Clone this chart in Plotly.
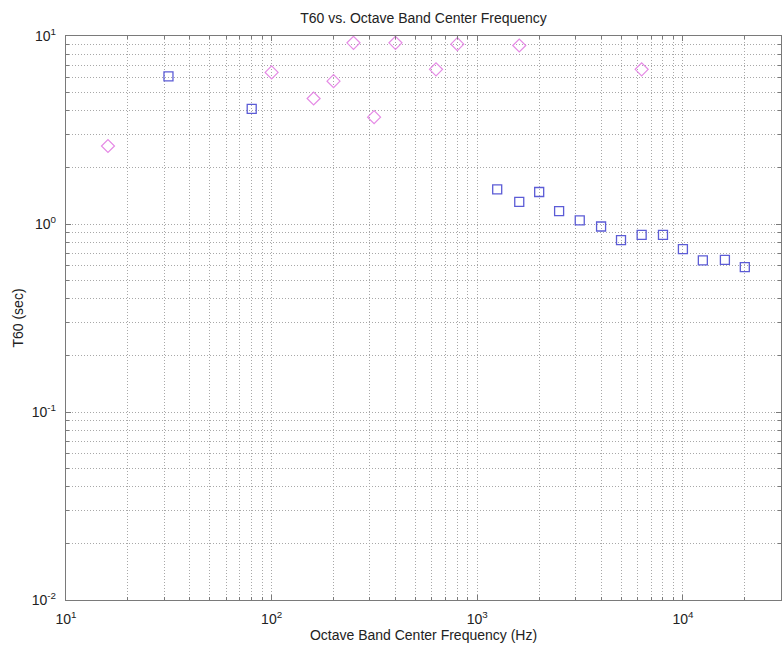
import plotly.graph_objects as go

# Series 1: magenta diamonds
freq_a = [16, 100, 160, 200, 250, 315, 400, 630, 800, 1600, 6300]
t60_a = [2.6, 6.4, 4.65, 5.75, 9.2, 3.7, 9.2, 6.65, 9.05, 8.9, 6.65]

# Series 2: blue squares
freq_b = [31.5, 80, 1250, 1600, 2000, 2500, 3150, 4000, 5000, 6300, 8000,
          10000, 12500, 16000, 20000]
t60_b = [6.1, 4.1, 1.53, 1.31, 1.48, 1.17, 1.045, 0.97, 0.82, 0.875, 0.875,
         0.735, 0.64, 0.645, 0.59]

x_major = [10, 100, 1000, 10000]
x_major_text = ["10<sup>1</sup>", "10<sup>2</sup>", "10<sup>3</sup>", "10<sup>4</sup>"]
y_major = [0.01, 0.1, 1, 10]
y_major_text = ["10<sup>-2</sup>", "10<sup>-1</sup>", "10<sup>0</sup>", "10<sup>1</sup>"]

x_minor = [m * d for d in [10, 100, 1000, 10000] for m in range(2, 10)]
y_minor = [m * d for d in [0.01, 0.1, 1] for m in range(2, 10)]

grid_col = "#a8a8a8"
axis_col = "#7a7a7a"
grid_dash = "1px,2px"
font_fam = "Liberation Sans, Arial, sans-serif"

fig = go.Figure()
fig.add_trace(go.Scatter(
    x=freq_a, y=t60_a, mode="markers",
    marker=dict(symbol="diamond-open", size=10, color="#e58ae5",
                line=dict(width=1.2, color="#e58ae5")),
    showlegend=False))
fig.add_trace(go.Scatter(
    x=freq_b, y=t60_b, mode="markers",
    marker=dict(symbol="square-open", size=9, color="#5c5cd6",
                line=dict(width=1.3, color="#5c5cd6")),
    showlegend=False))

axis_common = dict(
    type="log", showline=True, linecolor=axis_col, linewidth=1.3,
    mirror="ticks", ticks="inside", ticklen=5, tickcolor=axis_col,
    showgrid=True, gridcolor=grid_col, griddash=grid_dash, gridwidth=1,
    zeroline=False, tickfont=dict(size=14, color="#222", family=font_fam),
)

fig.update_xaxes(
    **axis_common,
    range=[1, 4.477],
    tickmode="array", tickvals=x_major, ticktext=x_major_text,
    ticklabelstandoff=6,
    minor=dict(tickmode="array", tickvals=x_minor, ticks="inside", ticklen=3,
               tickcolor=axis_col, showgrid=True, gridcolor=grid_col,
               griddash=grid_dash, gridwidth=1),
    title=dict(text="Octave Band Center Frequency (Hz)",
               font=dict(size=14, color="#222", family=font_fam), standoff=2),
)
fig.update_yaxes(
    **axis_common,
    range=[-2, 1],
    tickmode="array", tickvals=y_major, ticktext=y_major_text,
    ticklabelstandoff=6,
    minor=dict(tickmode="array", tickvals=y_minor, ticks="inside", ticklen=3,
               tickcolor=axis_col, showgrid=True, gridcolor=grid_col,
               griddash=grid_dash, gridwidth=1),
    title=dict(text="T60 (sec)",
               font=dict(size=14, color="#222", family=font_fam), standoff=4),
)

fig.update_layout(
    width=783, height=651,
    margin=dict(l=66, r=2, t=36, b=51),
    paper_bgcolor="white", plot_bgcolor="white",
    title=dict(text="T60 vs. Octave Band Center Frequency",
               x=423.5 / 783, xanchor="center", y=1 - 18 / 651,
               yanchor="middle",
               font=dict(size=14, color="#222", family=font_fam)),
    font=dict(family=font_fam),
)

fig.write_html("out.html")
